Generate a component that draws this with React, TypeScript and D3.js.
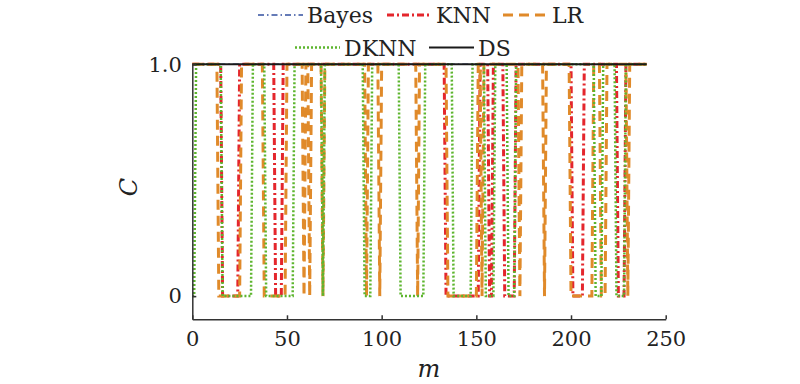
import React, { useEffect, useRef } from "react";
import * as d3 from "d3";

// breakpoints [m, C]; C is 0 or 1
const bayes: [number, number][] = [[0, 1], [240, 1]];

const knn: [number, number][] = [
  [0, 1], [15, 1], [16, 0], [24, 0], [25, 1], [43, 1], [44, 0], [47, 0], [48, 1],
  [133, 1], [134, 0], [151, 0], [152, 1], [156, 1], [157, 0], [158, 0], [159, 1],
  [164, 1], [165, 0], [170, 0], [171, 1], [200, 1], [201, 0], [206, 0], [207, 1],
  [224, 1], [225, 0], [228, 0], [229, 1], [240, 1],
];

const lr: [number, number][] = [
  [0, 1], [13, 1], [14, 0], [25, 0], [26, 1], [37, 1], [38, 0], [49, 0], [50, 1],
  [58, 1], [59, 0], [60, 1], [61, 1], [62, 0], [63, 1], [68, 1], [69, 0], [70, 1],
  [91, 1], [92, 0], [93, 1], [98, 1], [99, 0], [100, 1], [118, 1], [119, 0], [120, 1],
  [134, 1], [135, 0], [150, 0], [151, 1], [152, 1], [153, 0], [154, 1],
  [172, 1], [173, 0], [174, 1], [185, 1], [186, 0], [187, 1],
  [199, 1], [200, 0], [211, 0], [212, 1], [215, 1], [216, 0], [218, 0], [219, 1],
  [229, 1], [230, 0], [231, 1], [240, 1],
];

const dknn: [number, number][] = [
  [0, 0], [1, 0], [2, 1], [15, 1], [16, 0], [31, 0], [32, 1], [38, 1], [39, 0], [53, 0], [54, 1],
  [68, 1], [69, 0], [70, 1], [90, 1], [91, 0], [94, 0], [95, 1], [109, 1], [110, 0], [122, 0], [123, 1],
  [137, 1], [138, 0], [147, 0], [148, 1], [154, 1], [155, 0], [159, 0], [160, 1],
  [166, 1], [167, 0], [170, 0], [171, 1], [212, 1], [213, 0], [216, 0], [217, 1],
  [223, 1], [224, 0], [228, 0], [229, 1], [240, 1],
];

const ds: [number, number][] = [[0, 1], [240, 1]];

const xTicks = [0, 50, 100, 150, 200, 250];
const yTicks = [0, 1];
const yTickLabels = ["0", "1.0"];

const series = [
  { name: "Bayes", data: bayes, color: "#3350a0", width: 1.5, dash: "6,3,1.5,3" },
  { name: "KNN", data: knn, color: "#e4262c", width: 3, dash: "7,3,2,3" },
  { name: "LR", data: lr, color: "#e08a2a", width: 3, dash: "10,6" },
  { name: "DKNN", data: dknn, color: "#5db52e", width: 2.5, dash: "2,2" },
  { name: "DS", data: ds, color: "#1a1a1a", width: 2, dash: "" },
];

// legend placement: [swatch x, row y]
const legendPos: Record<string, [number, number]> = {
  Bayes: [258, 15],
  KNN: [387, 15],
  LR: [503, 15],
  DKNN: [295, 47.5],
  DS: [429, 47.5],
};

const width = 800;
const height = 384;
const font = "DejaVu Serif";

const App = () => {
  const svgRef = useRef<SVGSVGElement>(null);

  const x = d3.scaleLinear().domain([0, 250]).range([192.3, 665.7]);
  const y = d3.scaleLinear().domain([-0.1, 1]).range([319.3, 64.3]);

  const line = d3
    .line<[number, number]>()
    .x((d) => x(d[0]))
    .y((d) => y(d[1]));

  useEffect(() => {
    const svg = d3.select(svgRef.current);
    svg.selectAll(".axis").remove();

    // x axis, ticks pointing inward
    const gx = svg
      .append("g")
      .attr("class", "axis")
      .attr("transform", `translate(0, ${y(-0.1)})`)
      .call(d3.axisBottom(x).tickValues(xTicks).tickSizeInner(-4).tickSizeOuter(0).tickPadding(12));

    // y axis
    const gy = svg
      .append("g")
      .attr("class", "axis")
      .attr("transform", `translate(${x(0)}, 0)`)
      .call(
        d3
          .axisLeft(y)
          .tickValues(yTicks)
          .tickFormat((d, i) => yTickLabels[i])
          .tickSizeInner(-4)
          .tickSizeOuter(0)
          .tickPadding(10.5)
      );

    [gx, gy].forEach((g) => {
      g.attr("font-family", null).attr("font-size", null);
      g.select(".domain").attr("stroke", "#333").attr("stroke-width", 1.5);
      g.selectAll(".tick line").attr("stroke", "#333").attr("stroke-width", 1.5);
      g.selectAll(".tick text")
        .attr("fill", "#222")
        .attr("font-family", font)
        .attr("font-size", 21);
    });
  }, []);

  return (
    <svg
      ref={svgRef}
      width={width}
      height={height}
      style={{ position: "absolute", left: 0, top: 0, background: "#fff" }}
    >
      {series.map((s) => (
        <path
          key={s.name}
          d={line(s.data) || ""}
          fill="none"
          stroke={s.color}
          strokeWidth={s.width}
          strokeDasharray={s.dash || undefined}
        />
      ))}

      {/* legend */}
      {series.map((s) => {
        const [lx, ly] = legendPos[s.name];
        return (
          <g key={"lg" + s.name}>
            <line
              x1={lx}
              x2={lx + 45}
              y1={ly}
              y2={ly}
              stroke={s.color}
              strokeWidth={s.width}
              strokeDasharray={s.dash || undefined}
            />
            <text
              x={lx + 49}
              y={ly + 8}
              fontFamily={font}
              fontSize={22}
              fill="#222"
            >
              {s.name}
            </text>
          </g>
        );
      })}

      {/* axis titles */}
      <text
        transform={`translate(137, ${y(0.47)}) rotate(-90)`}
        textAnchor="middle"
        fontFamily={font}
        fontStyle="italic"
        fontSize={24}
        fill="#222"
      >
        C
      </text>
      <text
        x={x(125)}
        y={377}
        textAnchor="middle"
        fontFamily={font}
        fontStyle="italic"
        fontSize={24}
        fill="#222"
      >
        m
      </text>
    </svg>
  );
};

export default App;
